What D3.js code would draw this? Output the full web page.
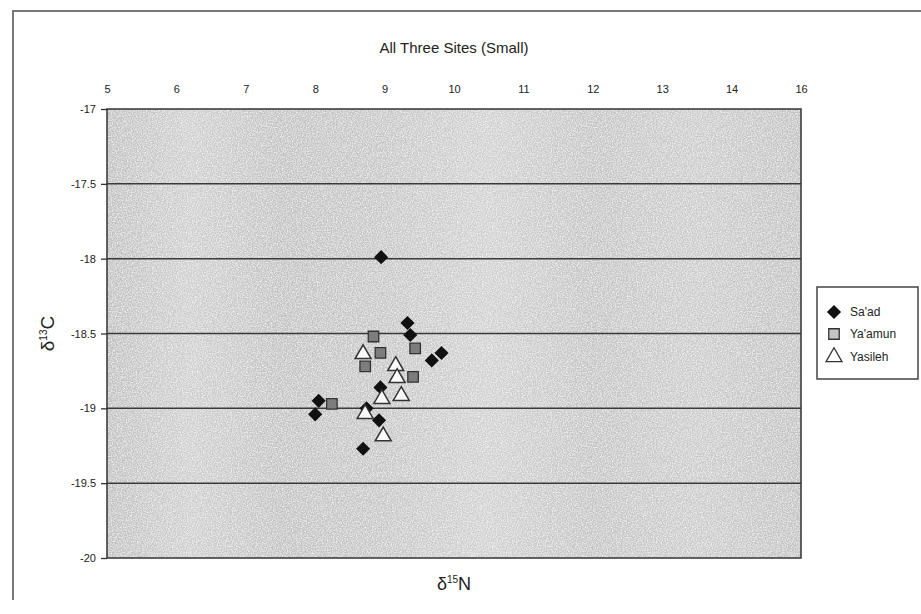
<!DOCTYPE html>
<html>
<head>
<meta charset="utf-8">
<script src="https://cdn.jsdelivr.net/npm/d3@7"></script>
<style>
  body { margin: 0; background: #fff; }
  text { font-family: "Liberation Sans Narrow", "Liberation Sans", Arial, sans-serif; fill: #222; }
</style>
</head>
<body>
<div id="container"></div>
<script>
// data
const saadN = [8.95, 9.33, 9.37, 9.68, 9.82, 8.94, 8.05, 8.0, 8.74, 8.92, 8.69];
const saadC = [-17.99, -18.43, -18.51, -18.68, -18.63, -18.86, -18.95, -19.04, -19.0, -19.08, -19.27];
const yaamunN = [8.84, 8.94, 9.44, 8.72, 9.41, 8.24];
const yaamunC = [-18.52, -18.63, -18.6, -18.72, -18.79, -18.97];
const yasilehN = [8.69, 9.16, 9.18, 9.24, 8.96, 8.72, 8.98];
const yasilehC = [-18.63, -18.71, -18.79, -18.91, -18.93, -19.03, -19.18];

const xTicks = [5, 6, 7, 8, 9, 10, 11, 12, 13, 14, 15];
const xTickLabels = ["5", "6", "7", "8", "9", "10", "11", "12", "13", "14", "16"];
const yTicks = [-17, -17.5, -18, -18.5, -19, -19.5, -20];
const seriesNames = ["Sa'ad", "Ya'amun", "Yasileh"];

// chart dimensions
const width = 921;
const height = 614;
const marginTop = 109;
const marginLeft = 107;
const plotRight = 801;
const plotBottom = 558;

const svg = d3.select("#container")
    .append("svg")
    .attr("width", width)
    .attr("height", height);

// outer frame (top and left edges visible)
svg.append("path")
    .attr("d", "M13,600 L13,11 L921,11")
    .attr("fill", "none")
    .attr("stroke", "#777")
    .attr("stroke-width", 2);

const x = d3.scaleLinear().domain([5, 15]).range([marginLeft, plotRight]);
const y = d3.scaleLinear().domain([-17, -20]).range([marginTop, plotBottom]);

// gray plot background with soft vertical bands and grain
const defs = svg.append("defs");
const grad = defs.append("linearGradient").attr("id", "bg");
[[0, "#c0c0c0"], [0.12, "#cecece"], [0.25, "#c2c2c2"], [0.4, "#c6c6c6"], [0.55, "#d0d0d0"],
 [0.7, "#c4c4c4"], [0.85, "#cbcbcb"], [1, "#c2c2c2"]].forEach(function(s) {
    grad.append("stop").attr("offset", s[0]).attr("stop-color", s[1]);
});
const noise = defs.append("filter").attr("id", "grain")
    .attr("x", 0).attr("y", 0).attr("width", 1).attr("height", 1);
noise.append("feTurbulence").attr("type", "fractalNoise").attr("baseFrequency", 0.8)
    .attr("numOctaves", 2).attr("seed", 3).attr("result", "n");
noise.append("feColorMatrix").attr("in", "n").attr("type", "matrix")
    .attr("values", "0 0 0 0 1  0 0 0 0 1  0 0 0 0 1  1.6 0 0 0 -0.6").attr("result", "w");
noise.append("feMerge").call(function(m) {
    m.append("feMergeNode").attr("in", "SourceGraphic");
    m.append("feMergeNode").attr("in", "w");
});

svg.append("rect")
    .attr("x", x(5))
    .attr("y", y(-17))
    .attr("width", x(15) - x(5))
    .attr("height", y(-20) - y(-17))
    .attr("fill", "url(#bg)")
    .attr("filter", "url(#grain)");

// horizontal grid lines
svg.selectAll("line.grid")
    .data(yTicks.filter(function(d) { return d !== -17 && d !== -20; }))
    .enter()
    .append("line")
    .attr("class", "grid")
    .attr("x1", x(5))
    .attr("x2", x(15))
    .attr("y1", function(d) { return y(d); })
    .attr("y2", function(d) { return y(d); })
    .style("stroke", "#3a3a3a")
    .style("stroke-width", 1.5);

// plot border
svg.append("rect")
    .attr("x", x(5))
    .attr("y", y(-17))
    .attr("width", x(15) - x(5))
    .attr("height", y(-20) - y(-17))
    .attr("fill", "none")
    .style("stroke", "#333")
    .style("stroke-width", 1.5);

// y axis on the left
const yAxis = d3.axisLeft(y)
    .tickValues(yTicks)
    .tickSize(6)
    .tickPadding(5)
    .tickFormat(function(d) { return String(d); });
const gy = svg.append("g")
    .attr("transform", "translate(" + x(5) + ",0)")
    .call(yAxis);
gy.select(".domain").remove();
gy.selectAll("line").style("stroke", "#333").style("stroke-width", 1.3);
gy.selectAll("text").style("font-size", "11px").attr("fill", "#222");

// x axis labels along the top
const xAxis = d3.axisTop(x)
    .tickValues(xTicks)
    .tickSize(0)
    .tickPadding(16)
    .tickFormat(function(d, i) { return xTickLabels[i]; });
const gx = svg.append("g")
    .attr("transform", "translate(0," + y(-17) + ")")
    .call(xAxis);
gx.select(".domain").remove();
gx.selectAll("text").style("font-size", "11px").attr("fill", "#222");

// title
svg.append("text")
    .attr("x", (x(5) + x(15)) / 2)
    .attr("y", 53)
    .attr("text-anchor", "middle")
    .style("font-family", "'Liberation Sans', Arial, sans-serif")
    .style("font-size", "15px")
    .text("All Three Sites (Small)");

// axis titles
const xTitle = svg.append("text")
    .attr("x", (x(5) + x(15)) / 2)
    .attr("y", 590)
    .attr("text-anchor", "middle")
    .style("font-family", "'Liberation Sans', Arial, sans-serif")
    .style("font-size", "18px");
xTitle.append("tspan").text("δ");
xTitle.append("tspan").attr("dy", -7).style("font-size", "10px").text("15");
xTitle.append("tspan").attr("dy", 7).text("N");

const yTitle = svg.append("text")
    .attr("transform", "translate(54," + ((y(-17) + y(-20)) / 2) + ") rotate(-90)")
    .attr("text-anchor", "middle")
    .style("font-family", "'Liberation Sans', Arial, sans-serif")
    .style("font-size", "19px");
yTitle.append("tspan").text("δ");
yTitle.append("tspan").attr("dy", -7).style("font-size", "10px").text("13");
yTitle.append("tspan").attr("dy", 7).text("C");

// markers
const diamond = d3.symbol().type(d3.symbolSquare).size(100);
const square = d3.symbol().type(d3.symbolSquare).size(110);
const triangle = d3.symbol().type(d3.symbolTriangle).size(110);

svg.selectAll("path.yaamun")
    .data(d3.zip(yaamunN, yaamunC))
    .enter()
    .append("path")
    .attr("class", "yaamun")
    .attr("d", square)
    .attr("transform", function(d) { return "translate(" + x(d[0]) + "," + y(d[1]) + ")"; })
    .attr("fill", "#7d7d7d")
    .attr("stroke", "#333")
    .attr("stroke-width", 1.3);

svg.selectAll("path.saad")
    .data(d3.zip(saadN, saadC))
    .enter()
    .append("path")
    .attr("class", "saad")
    .attr("d", diamond)
    .attr("transform", function(d) { return "translate(" + x(d[0]) + "," + y(d[1]) + ") rotate(45)"; })
    .attr("fill", "#111");

svg.selectAll("path.yasileh")
    .data(d3.zip(yasilehN, yasilehC))
    .enter()
    .append("path")
    .attr("class", "yasileh")
    .attr("d", triangle)
    .attr("transform", function(d) { return "translate(" + x(d[0]) + "," + (y(d[1]) + 1) + ")"; })
    .attr("fill", "#fafafa")
    .attr("stroke", "#333")
    .attr("stroke-width", 1.5);

// legend
const legend = svg.append("g");
legend.append("rect")
    .attr("x", 817)
    .attr("y", 287)
    .attr("width", 101)
    .attr("height", 92)
    .attr("fill", "#fff")
    .attr("stroke", "#444")
    .attr("stroke-width", 1.5);

const legendY = [312, 334, 357];
const legendSymbols = [
    { d: diamond(), fill: "#111", stroke: "none", rot: 45 },
    { d: square(), fill: "#c4c4c4", stroke: "#333", rot: 0 },
    { d: triangle(), fill: "#fff", stroke: "#333", rot: 0 }
];
legend.selectAll("path")
    .data(legendSymbols)
    .enter()
    .append("path")
    .attr("d", function(d) { return d.d; })
    .attr("transform", function(d, i) { return "translate(834," + legendY[i] + ") rotate(" + d.rot + ")"; })
    .attr("fill", function(d) { return d.fill; })
    .attr("stroke", function(d) { return d.stroke; })
    .attr("stroke-width", 1.3);
legend.selectAll("text")
    .data(seriesNames)
    .enter()
    .append("text")
    .attr("x", 850)
    .attr("y", function(d, i) { return legendY[i] + 4; })
    .style("font-size", "12px")
    .text(function(d) { return d; });
</script>
</body>
</html>
